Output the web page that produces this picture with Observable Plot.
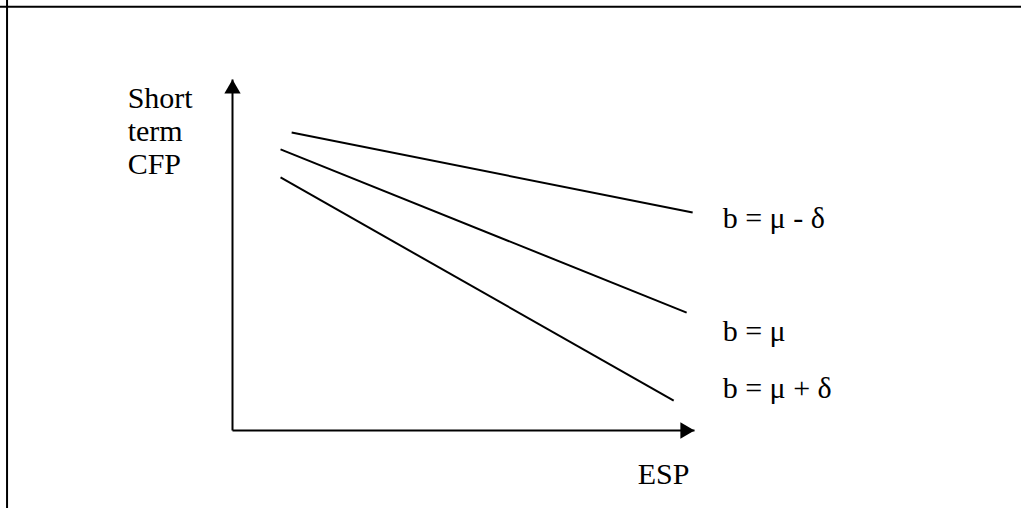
<!DOCTYPE html>
<html>
<head>
<meta charset="utf-8">
<script src="https://cdn.jsdelivr.net/npm/d3@7"></script>
<script src="https://cdn.jsdelivr.net/npm/@observablehq/plot@0.6"></script>
<style>
  html, body { margin: 0; padding: 0; background: #fff; }
</style>
</head>
<body>
<div id="chart"></div>
<script>
// Series (conceptual lines: short-term CFP vs ESP for three b values)
const seriesNames = ["b = μ - δ", "b = μ", "b = μ + δ"];
const lineStartX = [12.8, 10.4, 10.4];
const lineStartY = [84.9, 80.1, 72.1];
const lineEndX = [99.6, 98.3, 95.5];
const lineEndY = [62.1, 33.6, 8.5];

// Series labels placed to the right of line ends
const labelX = [106.1, 106.1, 106.1];
const labelY = [57.8, 25.4, 9.4];

// Axis titles
const yAxisTitle = ["Short\nterm\nCFP"];
const yTitleX = [-22.7];
const yTitleY = [73.2];
const xAxisTitle = ["ESP"];
const xTitleX = [87.7];
const xTitleY = [-15.1];

// Axes (origin to arrow tip) and outer figure frame
const axisMax = 100;
const axisX1 = [0, 0], axisY1 = [0, 0];
const axisX2 = [0, axisMax], axisY2 = [axisMax, 0];
const frameLeft = [-48.8];
const frameTop = [120.7];

const font = "'Liberation Serif', 'Times New Roman', serif";

const chart = Plot.plot({
  width: 1021,
  height: 508,
  margin: 0,
  style: { fontFamily: font, background: "white", color: "black" },
  x: { domain: [0, axisMax], range: [232, 694], axis: null },
  y: { domain: [0, axisMax], range: [430, 79], axis: null },
  marks: [
    Plot.ruleX(frameLeft, { stroke: "black", strokeWidth: 2 }),
    Plot.ruleY(frameTop, { stroke: "black", strokeWidth: 2 }),
    Plot.link(axisX1, { x1: axisX1, y1: axisY1, x2: axisX2, y2: axisY2, stroke: "black", strokeWidth: 2 }),
    Plot.dot([0], { x: [0], y: [axisMax], symbol: "triangle", r: 6.05, fill: "black", stroke: null, dy: 9.4 }),
    Plot.dot([0], { x: [axisMax], y: [0], symbol: "triangle", r: 6.05, fill: "black", stroke: null, rotate: 90, dx: -9.4 }),
    Plot.link(seriesNames, { x1: lineStartX, y1: lineStartY, x2: lineEndX, y2: lineEndY, stroke: "black", strokeWidth: 2 }),
    Plot.text(seriesNames, { x: labelX, y: labelY, text: seriesNames, textAnchor: "start", lineAnchor: "bottom", fontSize: 30, fontFamily: font, fill: "black" }),
    Plot.text(yAxisTitle, { x: yTitleX, y: yTitleY, text: yAxisTitle, textAnchor: "start", lineAnchor: "bottom", lineHeight: 1.1, fontSize: 30, fontFamily: font, fill: "black" }),
    Plot.text(xAxisTitle, { x: xTitleX, y: xTitleY, text: xAxisTitle, textAnchor: "start", lineAnchor: "bottom", fontSize: 30, fontFamily: font, fill: "black" })
  ]
});
document.getElementById("chart").appendChild(chart);
</script>
</body>
</html>
